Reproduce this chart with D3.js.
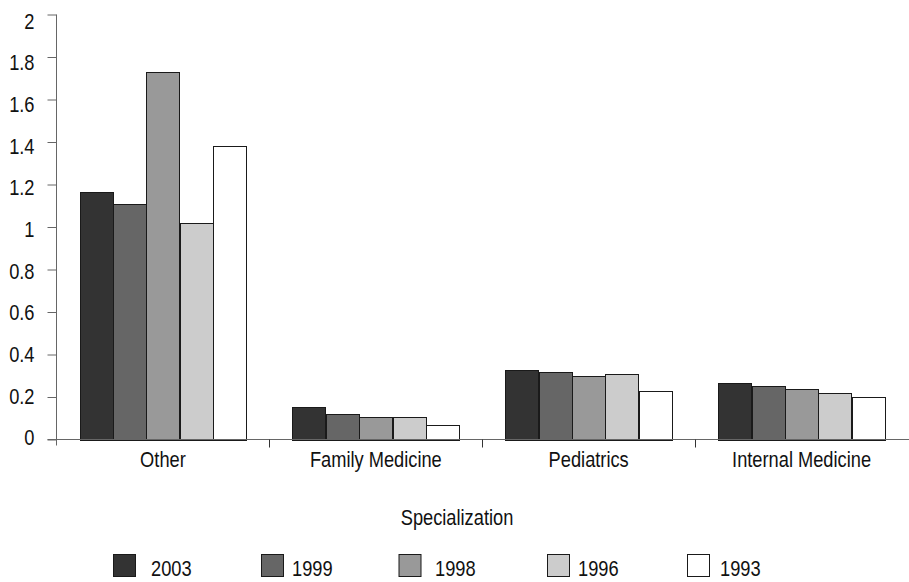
<!DOCTYPE html>
<html>
<head>
<meta charset="utf-8">
<script src="https://cdn.jsdelivr.net/npm/d3@7"></script>
<style>
  body { margin: 0; background: #fff; }
  svg text { font-family: "Liberation Sans", Arial, sans-serif; fill: #111; }
</style>
</head>
<body>
<svg id="chart" width="909" height="582"></svg>
<script>
const categories = ["Other", "Family Medicine", "Pediatrics", "Internal Medicine"];
const years = ["2003", "1999", "1998", "1996", "1993"];
const colors = ["#333333", "#666666", "#999999", "#cccccc", "#ffffff"];
const v2003 = [1.163, 0.151, 0.326, 0.268];
const v1999 = [1.11, 0.122, 0.317, 0.25];
const v1998 = [1.729, 0.106, 0.30, 0.238];
const v1996 = [1.017, 0.106, 0.309, 0.217];
const v1993 = [1.383, 0.066, 0.227, 0.198];
const seriesValues = [v2003, v1999, v1998, v1996, v1993];
const yTicks = [0, 0.2, 0.4, 0.6, 0.8, 1, 1.2, 1.4, 1.6, 1.8, 2];
const xTitle = "Specialization";

const FS = 22;        // font size
const SX = 0.83;      // horizontal squeeze for a condensed look

const svg = d3.select("#chart");
const plotLeft = 56.5, plotRight = 909, plotTop = 14.5, plotBottom = 439.5;

const x = d3.scaleBand().domain(categories).range([plotLeft, 908]).paddingInner(0).paddingOuter(0);
const inner = d3.scaleBand().domain(years).range([23, x.bandwidth() - 23]).padding(0);
const y = d3.scaleLinear().domain([0, 2]).range([plotBottom, plotTop]);
// label centres sit slightly off the tick marks
const yLabel = d3.scaleLinear().domain([0, 2]).range([437.5, 20.8]);

function label(g, tx, ty, str, anchor) {
  return g.append("text")
    .attr("transform", `translate(${tx},${ty}) scale(${SX},1)`)
    .attr("text-anchor", anchor || "start")
    .attr("font-size", FS)
    .text(str);
}

// bars
categories.forEach((cat, ci) => {
  years.forEach((yr, si) => {
    const val = seriesValues[si][ci];
    svg.append("rect")
      .attr("x", Math.round(x(cat) + inner(yr)) + 0.5)
      .attr("y", Math.round(y(val)) + 0.5)
      .attr("width", Math.round(inner.bandwidth()))
      .attr("height", Math.round(y(0)) - Math.round(y(val)))
      .attr("fill", colors[si])
      .attr("stroke", "#1a1a1a")
      .attr("stroke-width", 1);
  });
});

// y axis
const yAxis = d3.axisLeft(y).tickValues(yTicks).tickSize(9).tickFormat(() => "");
const gy = svg.append("g").attr("transform", `translate(${plotLeft},0)`).call(yAxis);
gy.select(".domain").attr("stroke", "#666").attr("d", `M0,${plotTop}V${plotBottom + 6}`);
gy.selectAll(".tick line").attr("stroke", "#666");
yTicks.forEach(t => {
  label(svg, 34.5, yLabel(t) + 7.9, d3.format("")(+t.toFixed(1)), "end");
});

// x axis
svg.append("line").attr("x1", plotLeft - 9).attr("x2", plotRight).attr("y1", plotBottom).attr("y2", plotBottom)
  .attr("stroke", "#666");
const bounds = categories.map(c => x(c));
bounds.slice(1).forEach(b => {
  svg.append("line").attr("x1", Math.round(b) + 0.5).attr("x2", Math.round(b) + 0.5)
    .attr("y1", plotBottom).attr("y2", plotBottom + 8).attr("stroke", "#333");
});
categories.forEach(c => {
  label(svg, x(c) + x.bandwidth() / 2, 466.5, c, "middle");
});

label(svg, 457, 525, xTitle, "middle");

// legend
const legendX = [113, 261, 398.5, 547, 687];
const legendTextX = [151, 292, 435, 578, 720];
years.forEach((yr, i) => {
  svg.append("rect").attr("x", legendX[i] + 0.5).attr("y", 554.5).attr("width", 22).attr("height", 22)
    .attr("fill", colors[i]).attr("stroke", "#1a1a1a");
  label(svg, legendTextX[i], 576, yr, "start");
});
</script>
</body>
</html>
